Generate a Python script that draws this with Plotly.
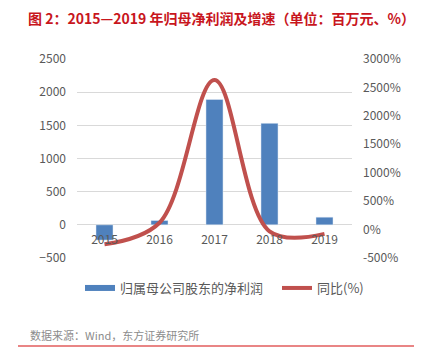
import plotly.graph_objects as go

years = ["2015", "2016", "2017", "2018", "2019"]
net_profit = [-230, 65, 1890, 1530, 115]          # 百万元
yoy = [-260, 120, 2630, -30, -75]                  # %

left_ticks = [-500, 0, 500, 1000, 1500, 2000, 2500]
right_ticks = [-500, 0, 500, 1000, 1500, 2000, 2500, 3000]
right_labels = ["-500%", "0%", "500%", "1000%", "1500%", "2000%", "2500%", "3000%"]

name_bar = "归属母公司股东的净利润"
name_line = "同比(%)"
title_text = "图 2：2015—2019 年归母净利润及增速（单位：百万元、%）"
source_text = "数据来源：Wind，东方证券研究所"

BLUE = "#4f81bd"
RED = "#c0504d"
GRAY = "#595959"
FONT = "Noto Sans CJK SC"

OFF = 8                      # page body margin
W, H = 422 - OFF, 360 - OFF
# plot area in page pixels
PL, PR, PT, PB = 77, 352, 59, 258
L, R, T, B = PL - OFF, PR - OFF, PT - OFF, PB - OFF

def px_x(p):
    return (p - PL) / (PR - PL)

def px_y(p):
    return (PB - p) / (PB - PT)

fig = go.Figure()
fig.add_trace(go.Bar(x=years, y=net_profit, marker_color=BLUE, showlegend=False,
                     name=name_bar, yaxis="y"))
fig.add_trace(go.Scatter(x=years, y=yoy, mode="lines", yaxis="y2", showlegend=False,
                         name=name_line,
                         line=dict(color=RED, width=4, shape="spline", smoothing=1)))
# legend-only entries
fig.add_trace(go.Scatter(x=[None], y=[None], mode="lines", name=name_bar, legend="legend",
                         line=dict(color=BLUE, width=6)))
fig.add_trace(go.Scatter(x=[None], y=[None], mode="lines", name=name_line, yaxis="y2",
                         legend="legend2", line=dict(color=RED, width=4)))

leg_common = dict(orientation="h", xanchor="left", yanchor="middle",
                  font=dict(size=13, color=GRAY), itemwidth=30,
                  bgcolor="rgba(0,0,0,0)")

fig.update_layout(
    width=W, height=H,
    margin=dict(l=L, r=W - R, t=T, b=H - B, pad=0, autoexpand=False),
    paper_bgcolor="white", plot_bgcolor="white",
    font=dict(family=FONT, color=GRAY, size=12),
    bargap=0.69,
    title=dict(text=title_text, x=(28 - OFF) / W, xanchor="left", xref="container",
               y=1 - (19 - OFF) / H, yanchor="middle",
               font=dict(family=FONT, size=14, color="#c8161d", weight="bold")),
    xaxis=dict(type="category", anchor="free", position=1 / 6, showgrid=False,
               showline=False, ticks="", tickfont=dict(size=12, color=GRAY),
               ticklabelstandoff=6, zeroline=False),
    yaxis=dict(range=[-500, 2500], tickvals=left_ticks, showgrid=True,
               gridcolor="#d9d9d9", gridwidth=1, zeroline=False, showline=False,
               ticks="", ticklabelstandoff=10, tickfont=dict(size=12, color=GRAY)),
    yaxis2=dict(range=[-500, 3000], tickvals=right_ticks, ticktext=right_labels,
                overlaying="y", side="right", showgrid=False, zeroline=False,
                showline=False, ticks="", ticklabelstandoff=10,
                tickfont=dict(size=12, color=GRAY)),
    legend=dict(x=px_x(80), y=px_y(288), **leg_common),
    legend2=dict(x=px_x(277), y=px_y(288), **leg_common),
    showlegend=True,
)

fig.add_shape(type="line", xref="paper", yref="paper", x0=px_x(20), x1=px_x(410),
              y0=px_y(5), y1=px_y(5), line=dict(color="#e8a0a0", width=2))
fig.add_shape(type="line", xref="paper", yref="paper", x0=px_x(18), x1=px_x(418),
              y0=px_y(346), y1=px_y(346), line=dict(color="#e25c5c", width=1.5))
fig.add_annotation(text=source_text, xref="paper", yref="paper", x=px_x(28), y=px_y(335),
                   xanchor="left", yanchor="middle", showarrow=False,
                   font=dict(family=FONT, size=11, color="#8c8c8c"))

fig.write_html("out.html")
